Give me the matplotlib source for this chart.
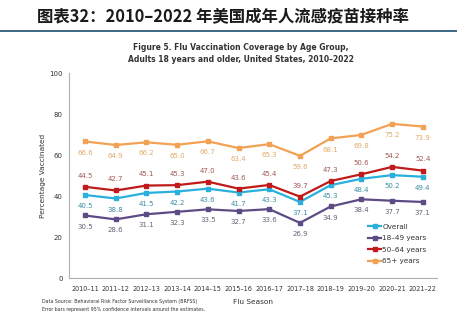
import matplotlib
matplotlib.use("Agg")
import matplotlib.pyplot as plt
from matplotlib.lines import Line2D

plt.rcParams['font.family'] = ['DejaVu Sans', 'Noto Sans CJK SC']

seasons = ["2010–11", "2011–12", "2012–13", "2013–14", "2014–15", "2015–16",
           "2016–17", "2017–18", "2018–19", "2019–20", "2020–21", "2021–22"]
overall = [40.5, 38.8, 41.5, 42.2, 43.6, 41.7, 43.3, 37.1, 45.3, 48.4, 50.2, 49.4]
age_18_49 = [30.5, 28.6, 31.1, 32.3, 33.5, 32.7, 33.6, 26.9, 34.9, 38.4, 37.7, 37.1]
age_50_64 = [44.5, 42.7, 45.1, 45.3, 47.0, 43.6, 45.4, 39.7, 47.3, 50.6, 54.2, 52.4]
age_65_plus = [66.6, 64.9, 66.2, 65.0, 66.7, 63.4, 65.3, 59.6, 68.1, 69.8, 75.2, 73.9]
y_ticks = [0, 20, 40, 60, 80, 100]

fig = plt.figure(figsize=(4.57, 3.29), dpi=100)
ax = fig.add_axes([0.151, 0.155, 0.805, 0.623])

# Header
fig.text(0.488, 0.948, "图表32：2010–2022 年美国成年人流感疫苗接种率",
         ha="center", va="center", fontsize=11.8, fontweight="bold",
         family=['Noto Sans CJK SC', 'DejaVu Sans'], color="#1a1a1a")
fig.add_artist(Line2D([0, 1], [0.905, 0.905], transform=fig.transFigure,
                      color="#2c5a78", lw=1.3))

fig.text(0.527, 0.857, "Figure 5. Flu Vaccination Coverage by Age Group,",
         ha="center", va="center", fontsize=5.5, fontweight="bold", color="#333333")
fig.text(0.527, 0.818, "Adults 18 years and older, United States, 2010–2022",
         ha="center", va="center", fontsize=5.5, fontweight="bold", color="#333333")

x = list(range(len(seasons)))
series = [
    ("Overall", overall, "#2ab0dc", "#3b8ea6", -1),
    ("18–49 years", age_18_49, "#5e4b86", "#6b6078", -1),
    ("50–64 years", age_50_64, "#c01a1a", "#a45858", 1),
    ("65+ years", age_65_plus, "#f2a155", "#e0aa6a", -1),
]

handles = []
for name, vals, color, lcolor, side in series:
    h, = ax.plot(x, vals, color=color, lw=1.6, marker="s", markersize=3.2,
                 label=name)
    handles.append(h)
    for xi, v in zip(x, vals):
        ax.annotate(f"{v:.1f}", (xi, v), xytext=(0, 8 * side), textcoords="offset points",
                    ha="center", va="center", fontsize=5, color=lcolor)

ax.set_xlim(-0.52, 11.46)
ax.set_ylim(0, 100)
ax.set_yticks(y_ticks)
ax.set_xticks(x)
ax.set_xticklabels(seasons, fontsize=4.7)
ax.tick_params(axis="both", length=0, colors="#333333")
ax.tick_params(axis="y", labelsize=5, pad=4.5)
ax.tick_params(axis="x", pad=6)
for s in ["top", "right"]:
    ax.spines[s].set_visible(False)
for s in ["left", "bottom"]:
    ax.spines[s].set_color("#b0b0b0")
    ax.spines[s].set_linewidth(0.8)

ax.set_ylabel("Percentage Vaccinated", fontsize=5.3, color="#333333", labelpad=2)
ax.set_xlabel("Flu Season", fontsize=5.3, color="#333333", labelpad=5)

leg = ax.legend(handles=handles, loc="lower right", bbox_to_anchor=(0.99, 0.035),
                frameon=False, fontsize=5.2, handlelength=1.8, handletextpad=0.15,
                labelspacing=0.75, labelcolor="#333333")

fig.text(0.092, 0.085, "Data Source: Behavioral Risk Factor Surveillance System (BRFSS)",
         fontsize=3.4, color="#333333", va="center")
fig.text(0.092, 0.058, "Error bars represent 95% confidence intervals around the estimates.",
         fontsize=3.4, color="#333333", va="center")

fig.savefig("out.png", dpi=100)
